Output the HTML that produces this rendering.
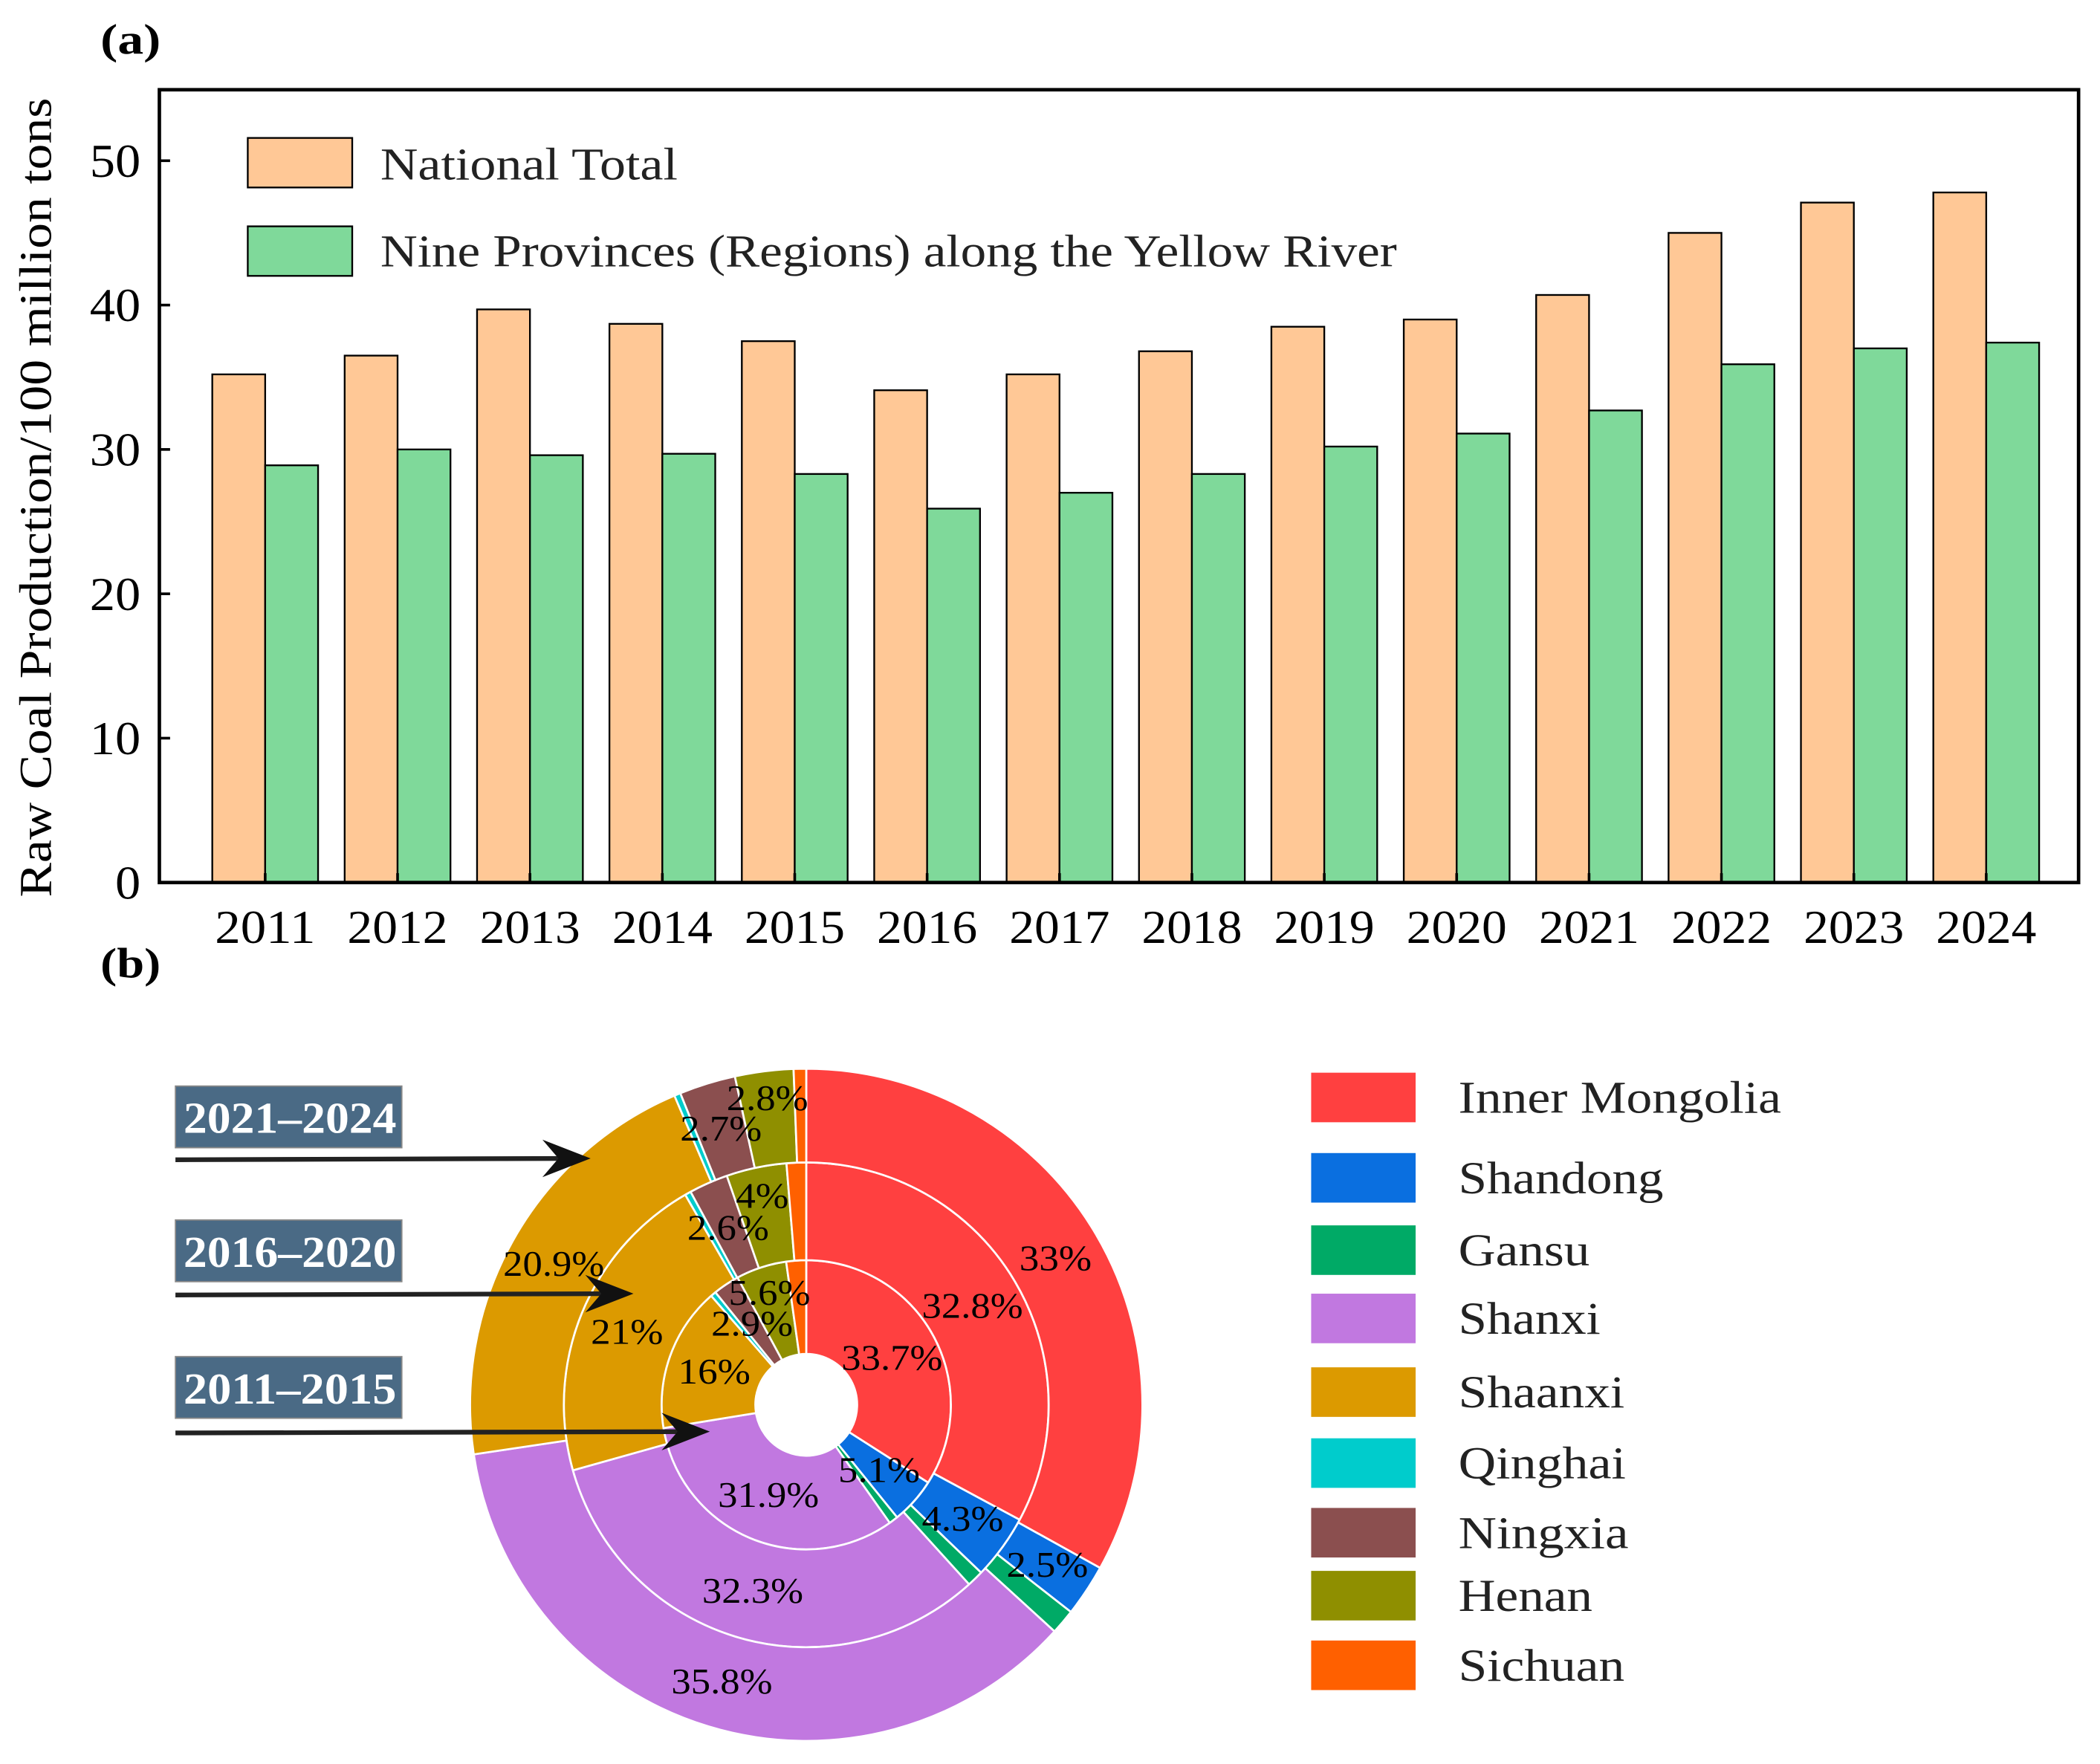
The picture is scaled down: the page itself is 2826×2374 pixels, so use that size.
<!DOCTYPE html>
<html><head><meta charset="utf-8"><style>
html,body{margin:0;padding:0;background:#fff;}
svg{display:block;font-family:"Liberation Serif",serif;}
</style></head><body>
<svg id="fig" width="2826" height="2374" viewBox="0 0 1568 1317.2" xmlns="http://www.w3.org/2000/svg">
<rect width="1568" height="1317.2" fill="#fff"/>
<text x="75" y="40" font-size="32" font-weight="bold" textLength="45" lengthAdjust="spacingAndGlyphs">(a)</text>
<text x="75" y="730" font-size="32" font-weight="bold" textLength="45" lengthAdjust="spacingAndGlyphs">(b)</text>
<g id="barChart"></g>
<g id="donut"></g>
</svg>
<script>
const years = ["2011","2012","2013","2014","2015","2016","2017","2018","2019","2020","2021","2022","2023","2024"];
const nationalTotal = [35.2,36.5,39.7,38.7,37.5,34.1,35.2,36.8,38.5,39.0,40.7,45.0,47.1,47.8];
const nineProvinces = [28.9,30.0,29.6,29.7,28.3,25.9,27.0,28.3,30.2,31.1,32.7,35.9,37.0,37.4];
const yTicks = [0,10,20,30,40,50];

const provinces = ["Inner Mongolia","Shandong","Gansu","Shanxi","Shaanxi","Qinghai","Ningxia","Henan","Sichuan"];
const periods = ["2011–2015","2016–2020","2021–2024"];
const share2011 = [33.7,5.1,1.0,31.9,16.0,0.6,2.9,5.6,2.2];
const share2016 = [32.8,4.3,1.1,32.3,21.0,0.4,2.6,4.0,1.3];
const share2021 = [33.0,2.5,1.2,35.8,20.9,0.3,2.7,2.8,0.6];
const labels2011 = ["33.7%","5.1%","","31.9%","16%","","2.9%","5.6%",""];
const labels2016 = ["32.8%","4.3%","","32.3%","21%","","2.6%","4%",""];
const labels2021 = ["33%","2.5%","","35.8%","20.9%","","2.7%","2.8%",""];

const NS="http://www.w3.org/2000/svg";
function mk(tag, attrs, parent, text){
  const e=document.createElementNS(NS,tag);
  for(const k in attrs) e.setAttribute(k,attrs[k]);
  if(text!==undefined) e.textContent=text;
  parent.appendChild(e); return e;
}
function fit(e,len){e.setAttribute('textLength',len);e.setAttribute('lengthAdjust','spacingAndGlyphs');}

/* ---------- Bar chart ---------- */
const bc=document.getElementById('barChart');
const X0=119,X1=1552,Y0=67,Y1=659;
const yScale=v=>Y1-(v/50)*(Y1-120);
const groupW=98.85, barW=39.5;
const xCenter=i=>198+i*groupW;
years.forEach((yr,i)=>{
  const c=xCenter(i);
  const b1=mk('rect',{x:c-barW,y:yScale(nationalTotal[i]),width:barW,height:Y1-yScale(nationalTotal[i]),fill:'#ffc896',stroke:'#000','stroke-width':1.3},bc);
  
  
  const b2=mk('rect',{x:c,y:yScale(nineProvinces[i]),width:barW,height:Y1-yScale(nineProvinces[i]),fill:'#7fd99a',stroke:'#000','stroke-width':1.3},bc);
  
  
  const t=mk('text',{x:c-37.5,y:704,'font-size':35},bc,yr);
  fit(t,75);
  
  
  mk('line',{x1:c,x2:c,y1:Y1,y2:Y1-7,stroke:'#000','stroke-width':2},bc);
});
const frame=mk('rect',{x:X0,y:Y0,width:X1-X0,height:Y1-Y0,fill:'none',stroke:'#000','stroke-width':2.6},bc);


yTicks.forEach(v=>{
  const y=yScale(v);
  mk('line',{x1:X0,x2:X0+8,y1:y,y2:y,stroke:'#000','stroke-width':2},bc);
  const s=String(v);
  const w=s.length*19;
  const t=mk('text',{x:105-w,y:y+12,'font-size':35},bc,s);
  fit(t,w);
  
  
});
const yt=mk('text',{x:-298,y:0,'font-size':34,transform:'translate(38,372) rotate(-90)'},bc,'Raw Coal Production/100 million tons');
fit(yt,597);


const lg1=mk('rect',{x:185,y:103,width:78,height:37,fill:'#ffc896',stroke:'#000','stroke-width':1.3},bc);


const lt1=mk('text',{x:284,y:134,'font-size':34,fill:'#222'},bc,'National Total');
fit(lt1,222);


const lg2=mk('rect',{x:185,y:169,width:78,height:37,fill:'#7fd99a',stroke:'#000','stroke-width':1.3},bc);


const lt2=mk('text',{x:284,y:199,'font-size':34,fill:'#222'},bc,'Nine Provinces (Regions) along the Yellow River');
fit(lt2,759);



/* ---------- Donut ---------- */
const dn=document.getElementById('donut');
const colors=['#ff4040','#0a6fe0','#00aa66','#c178e0','#dc9a00','#00cccc','#8b4f4f','#8f8f00','#ff6000'];
const CX=602,CY=1049;
const rings=[[share2011,labels2011,38,108],[share2016,labels2016,108,181],[share2021,labels2021,181,251]];
function pt(r,a){return [CX+r*Math.sin(a),CY-r*Math.cos(a)];}
function labW(s){let w=0;for(const ch of s){w+= ch==='%'?25:(ch==='.'?7:14.5);}return w;}
rings.forEach((ring,ri)=>{
  const [vals,labs,r0,r1]=ring;
  const tot=vals.reduce((a,b)=>a+b,0);
  let acc=0;
  vals.forEach((v,i)=>{
    const a0=acc/tot*2*Math.PI; acc+=v; const a1=acc/tot*2*Math.PI;
    const lg=(a1-a0)>Math.PI?1:0;
    const p0=pt(r1,a0),p1=pt(r1,a1),p2=pt(r0,a1),p3=pt(r0,a0);
    const d=`M${p0[0]},${p0[1]} A${r1},${r1} 0 ${lg} 1 ${p1[0]},${p1[1]} L${p2[0]},${p2[1]} A${r0},${r0} 0 ${lg} 0 ${p3[0]},${p3[1]} Z`;
    const s=mk('path',{d:d,fill:colors[i],stroke:'#fff','stroke-width':1.5},dn);
    
    
  });
});
rings.forEach((ring,ri)=>{
  const [vals,labs,r0,r1]=ring;
  const tot=vals.reduce((a,b)=>a+b,0);
  let acc=0;
  vals.forEach((v,i)=>{
    const a0=acc/tot*2*Math.PI; acc+=v; const a1=acc/tot*2*Math.PI;
    if(!labs[i]) return;
    const rr=(r0+r1)/2+(i===7?15:0);
    const p=pt(rr,(a0+a1)/2);
    const w=labW(labs[i]);
    const t=mk('text',{x:p[0]-w/2,y:p[1]+9,'font-size':27},dn,labs[i]);
    fit(t,w);
    
    
  });
});
/* period tags and arrows */
const tags=[["2021–2024",811,866,441],["2016–2020",911,967,473],["2011–2015",1013,1070,530]];
tags.forEach(tg=>{
  const r=mk('rect',{x:131,y:tg[1],width:169,height:46,fill:'#4a6a85',stroke:'#888','stroke-width':1},dn);
  
  
  const t=mk('text',{x:137,y:tg[1]+35,'font-size':33,'font-weight':'bold',fill:'#fff'},dn,tg[0]);
  fit(t,159);
  
  
  const y=tg[2],xe=tg[3];
  const l=mk('line',{x1:131,y1:y,x2:xe-10,y2:y-1,stroke:'#222','stroke-width':3.5},dn);
  
  
  mk('path',{d:`M${xe},${y-1} L${xe-36},${y-15} L${xe-24},${y-1} L${xe-36},${y+13} Z`,fill:'#111'},dn);
});
/* legend */
const legY=[801,861,915,966,1021,1074,1126,1173,1225];
const legW=[241,153,98,106,124,125,127,100,124];
provinces.forEach((p,i)=>{
  const r=mk('rect',{x:979,y:legY[i],width:78,height:37,fill:colors[i]},dn);
  
  
  const t=mk('text',{x:1089,y:legY[i]+30,'font-size':34,fill:'#222'},dn,p);
  fit(t,legW[i]);
  
  
});
</script>
</body></html>
